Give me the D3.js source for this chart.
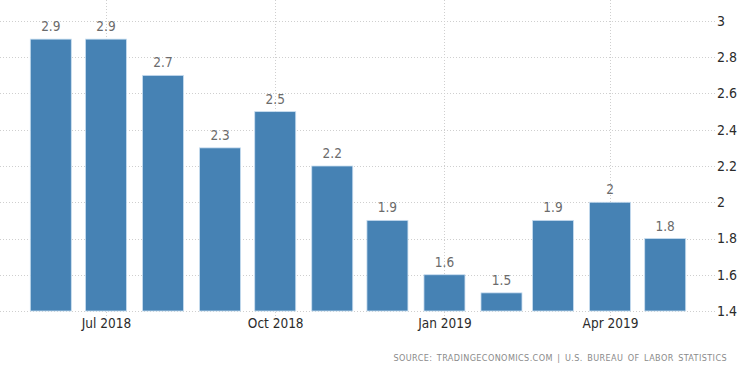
<!DOCTYPE html>
<html>
<head>
<meta charset="utf-8">
<script src="https://cdn.jsdelivr.net/npm/d3@7"></script>
<style>
    body { margin: 0; background: #fff; }
    svg { display: block; font-family: "DejaVu Sans Condensed", "DejaVu Sans", sans-serif; }
</style>
</head>
<body>
<svg id="chart" width="750" height="373"></svg>
<script>
// monthly values, first of each month
const months = ["2018-06", "2018-07", "2018-08", "2018-09", "2018-10", "2018-11",
    "2018-12", "2019-01", "2019-02", "2019-03", "2019-04", "2019-05"];
const values = [2.9, 2.9, 2.7, 2.3, 2.5, 2.2, 1.9, 1.6, 1.5, 1.9, 2, 1.8];
const yTicks = [1.4, 1.6, 1.8, 2, 2.2, 2.4, 2.6, 2.8, 3];
const xTicks = ["2018-07", "2018-10", "2019-01", "2019-04"];
const source = "SOURCE: TRADINGECONOMICS.COM | U.S. BUREAU OF LABOR STATISTICS";

const parse = d3.timeParse("%Y-%m");
const data = months.map((m, i) => ({ date: parse(m), value: values[i] }));

const svg = d3.select("#chart");
const gridRight = 715;

const x = d3.scaleTime()
    .domain([parse("2018-06"), parse("2019-05")])
    .range([50.8, 665.2]);

const y = d3.scaleLinear()
    .domain([1.4, 3])
    .range([311, 21]);

const barWidth = 41;

// gridlines
const grid = svg.append("g")
    .attr("stroke", "#cfcfcf")
    .attr("stroke-width", 1)
    .attr("stroke-dasharray", "1,2");

grid.selectAll(".hgrid")
    .data(yTicks)
    .enter()
    .append("line")
    .attr("x1", 0)
    .attr("x2", gridRight)
    .attr("y1", d => Math.round(y(d)) + 0.5)
    .attr("y2", d => Math.round(y(d)) + 0.5);

grid.selectAll(".vgrid")
    .data(xTicks)
    .enter()
    .append("line")
    .attr("x1", d => Math.round(x(parse(d))) + 0.5)
    .attr("x2", d => Math.round(x(parse(d))) + 0.5)
    .attr("y1", 0)
    .attr("y2", 316);

// bars
svg.append("g")
    .selectAll("rect")
    .data(data)
    .enter()
    .append("rect")
    .attr("x", d => x(d.date) - barWidth / 2)
    .attr("y", d => y(d.value))
    .attr("width", barWidth)
    .attr("height", d => y(1.4) - y(d.value))
    .attr("fill", "#4682b4")
    .attr("stroke", "#c9def0")
    .attr("stroke-width", 0.8);

// value labels
svg.append("g")
    .attr("font-size", 13.5)
    .attr("fill", "#6b6b6b")
    .attr("text-anchor", "middle")
    .selectAll("text")
    .data(data)
    .enter()
    .append("text")
    .attr("x", d => x(d.date))
    .attr("y", d => y(d.value) - 8)
    .text(d => d.value);

// y axis on the right
const yAxis = svg.append("g")
    .attr("transform", "translate(" + gridRight + ",0)")
    .call(d3.axisRight(y).tickValues(yTicks).tickSize(0).tickPadding(2)
        .tickFormat(d3.format("~g")));
yAxis.select(".domain").remove();
yAxis.selectAll("text")
    .attr("font-size", 14)
    .attr("font-family", "\"DejaVu Sans Condensed\", \"DejaVu Sans\", sans-serif")
    .attr("fill", "#2b2b2b");

// x axis
const xAxis = svg.append("g")
    .attr("transform", "translate(0,311)")
    .call(d3.axisBottom(x).tickValues(xTicks.map(parse)).tickSize(0).tickPadding(7)
        .tickFormat(d3.timeFormat("%b %Y")));
xAxis.select(".domain").remove();
xAxis.selectAll("text")
    .attr("font-size", 13.5)
    .attr("font-family", "\"DejaVu Sans Condensed\", \"DejaVu Sans\", sans-serif")
    .attr("fill", "#2b2b2b");

// source line
svg.append("text")
    .attr("x", 727)
    .attr("y", 361)
    .attr("text-anchor", "end")
    .attr("font-size", 9)
    .attr("letter-spacing", 0.4)
    .attr("word-spacing", 1.5)
    .attr("fill", "#8a8a8a")
    .text(source);
</script>
</body>
</html>
